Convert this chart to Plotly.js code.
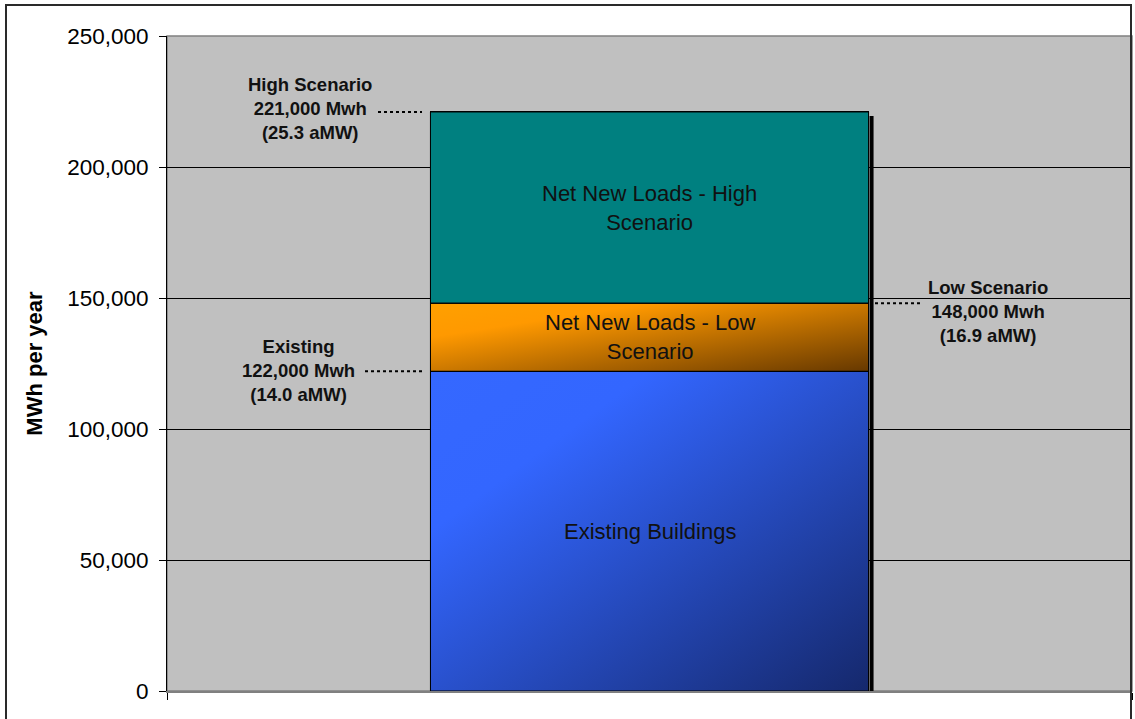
<!DOCTYPE html>
<html>
<head>
<meta charset="utf-8">
<script src="https://cdn.plot.ly/plotly-3.0.1.min.js"></script>
<style>
  html, body { margin: 0; padding: 0; background: #ffffff; }
  #chart { width: 1135px; height: 719px; }
  #frame { position: absolute; left: 5px; top: 4px; width: 1127px; height: 760px;
           border: 2px solid #2a2a2a; pointer-events: none; box-sizing: border-box; }
</style>
</head>
<body>
<div id="chart"></div>
<div id="frame"></div>
<script>
// ---- data ----
const categories = ['Loads'];
const segmentNames = ['Existing Buildings', 'Net New Loads - Low Scenario', 'Net New Loads - High Scenario'];
const segmentLabels = ['Existing Buildings', 'Net New Loads - Low<br>Scenario', 'Net New Loads - High<br>Scenario'];
const segmentValues = [122000, 26000, 73000];
const calloutLabels = ['Existing<br>122,000 Mwh<br>(14.0 aMW)', 'Low Scenario<br>148,000 Mwh<br>(16.9 aMW)', 'High Scenario<br>221,000 Mwh<br>(25.3 aMW)'];
const calloutTotals = [122000, 148000, 221000];
const yTickValues = [0, 50000, 100000, 150000, 200000, 250000];
const yTickLabels = ['0', '50,000', '100,000', '150,000', '200,000', '250,000'];

// ---- styles ----
const baseColors = ['#2d55e0', '#d07a00', '#008080'];
const gradStops = [['#3568ff', '#3366ff', '#15286c'], ['#ffa000', '#ff9900', '#663800'], ['#008080', '#008080', '#008080']];
const W = 1135, H = 719;
const M = {l: 167, r: 3, t: 36, b: 28};
const plotW = W - M.l - M.r, plotH = H - M.t - M.b;
const yMax = 250000;
const barWidth = 0.454;
const pxX = 1 / plotW;           // x data units per pixel (range width 1)
const pxY = yMax / plotH;        // y data units per pixel

function gradURI(stops) {
  const svg = '<svg xmlns="http://www.w3.org/2000/svg" width="100" height="100" viewBox="0 0 100 100" preserveAspectRatio="none">' +
    '<defs><linearGradient id="g" x1="0" y1="0" x2="1" y2="1">' +
    '<stop offset="0" stop-color="' + stops[0] + '"/>' +
    '<stop offset="0.25" stop-color="' + stops[1] + '"/>' +
    '<stop offset="1" stop-color="' + stops[2] + '"/>' +
    '</linearGradient></defs><rect width="100" height="100" fill="url(#g)"/></svg>';
  return 'data:image/svg+xml;charset=utf-8,' + encodeURIComponent(svg);
}

const traces = segmentNames.map((name, i) => ({
  type: 'bar',
  name: name,
  x: categories,
  y: [segmentValues[i]],
  width: barWidth,
  marker: {color: baseColors[i], line: {color: '#000', width: 1}},
  hoverinfo: 'name+y'
}));

const half = barWidth / 2;
const images = [], shapes = [], annotations = [];
let base = 0;
segmentValues.forEach((v, i) => {
  const top = base + v;
  images.push({
    source: gradURI(gradStops[i]), xref: 'x', yref: 'y',
    x: -half, y: top, sizex: barWidth, sizey: v,
    xanchor: 'left', yanchor: 'top', sizing: 'stretch', layer: 'above'
  });
  shapes.push({
    type: 'rect', xref: 'x', yref: 'y', layer: 'above',
    x0: -half, x1: half, y0: base, y1: top,
    line: {color: '#000', width: 1}, fillcolor: 'rgba(0,0,0,0)'
  });
  annotations.push({
    xref: 'x', yref: 'y', x: 0, y: base + v / 2, text: segmentLabels[i],
    showarrow: false, font: {family: 'Arial, Liberation Sans, sans-serif', size: 22, color: '#111'},
    align: 'center'
  });
  base = top;
});
const total = base;

// drop shadow on the right side of the bar
shapes.push({
  type: 'rect', xref: 'x', yref: 'y', layer: 'above',
  xsizemode: 'pixel', xanchor: half, x0: 1, x1: 5,
  y0: 0, y1: total - 4 * pxY,
  line: {width: 0}, fillcolor: '#000'
});

// callouts: [labelX, leaderX0, leaderX1, yshift]
const calloutPos = [
  [(298 - M.l) * pxX - 0.5, (365 - M.l) * pxX - 0.5, (423 - M.l) * pxX - 0.5, 1],
  [(988 - M.l) * pxX - 0.5, (875 - M.l) * pxX - 0.5, (920 - M.l) * pxX - 0.5, -8],
  [(310 - M.l) * pxX - 0.5, (378 - M.l) * pxX - 0.5, (422 - M.l) * pxX - 0.5, 3]
];
calloutTotals.forEach((t, i) => {
  const p = calloutPos[i];
  shapes.push({
    type: 'line', xref: 'x', yref: 'y', layer: 'above',
    x0: p[1], x1: p[2], y0: t, y1: t,
    line: {color: '#000', width: 2, dash: 'dot'}
  });
  annotations.push({
    xref: 'x', yref: 'y', x: p[0], y: t, yshift: p[3], text: '<b>' + calloutLabels[i] + '</b>',
    showarrow: false, align: 'center',
    font: {family: 'Arial, Liberation Sans, sans-serif', size: 18.5, color: '#111'}
  });
});

// gray plot frame (top/right)
shapes.unshift({
  type: 'rect', xref: 'paper', yref: 'paper', layer: 'below',
  x0: 0, x1: 1, y0: 0, y1: 1, line: {color: '#808080', width: 1.5}, fillcolor: 'rgba(0,0,0,0)'
});

const layout = {
  width: W, height: H,
  margin: M,
  paper_bgcolor: '#ffffff',
  plot_bgcolor: '#c0c0c0',
  barmode: 'stack',
  showlegend: false,
  font: {family: 'Arial, Liberation Sans, sans-serif', color: '#000'},
  xaxis: {
    type: 'category', range: [-0.5, 0.5], showticklabels: false,
    ticks: 'outside', tickson: 'boundaries', ticklen: 7, tickcolor: '#000',
    showgrid: false, showline: true, linecolor: '#808080', linewidth: 1.5, zeroline: false,
    fixedrange: true
  },
  yaxis: {
    range: [0, yMax], tickvals: yTickValues, ticktext: yTickLabels,
    ticks: 'outside', ticklen: 7, tickcolor: '#000',
    tickfont: {size: 22.5, color: '#000'}, ticklabelstandoff: 6,
    showgrid: true, gridcolor: '#000', gridwidth: 1,
    showline: true, linecolor: '#000', linewidth: 1, zeroline: false,
    title: {text: '<b>MWh per year</b>', font: {size: 22, color: '#000'}, standoff: 18},
    fixedrange: true
  },
  images: images,
  shapes: shapes,
  annotations: annotations
};

Plotly.newPlot('chart', traces, layout, {displayModeBar: false, staticPlot: true});
</script>
</body>
</html>
